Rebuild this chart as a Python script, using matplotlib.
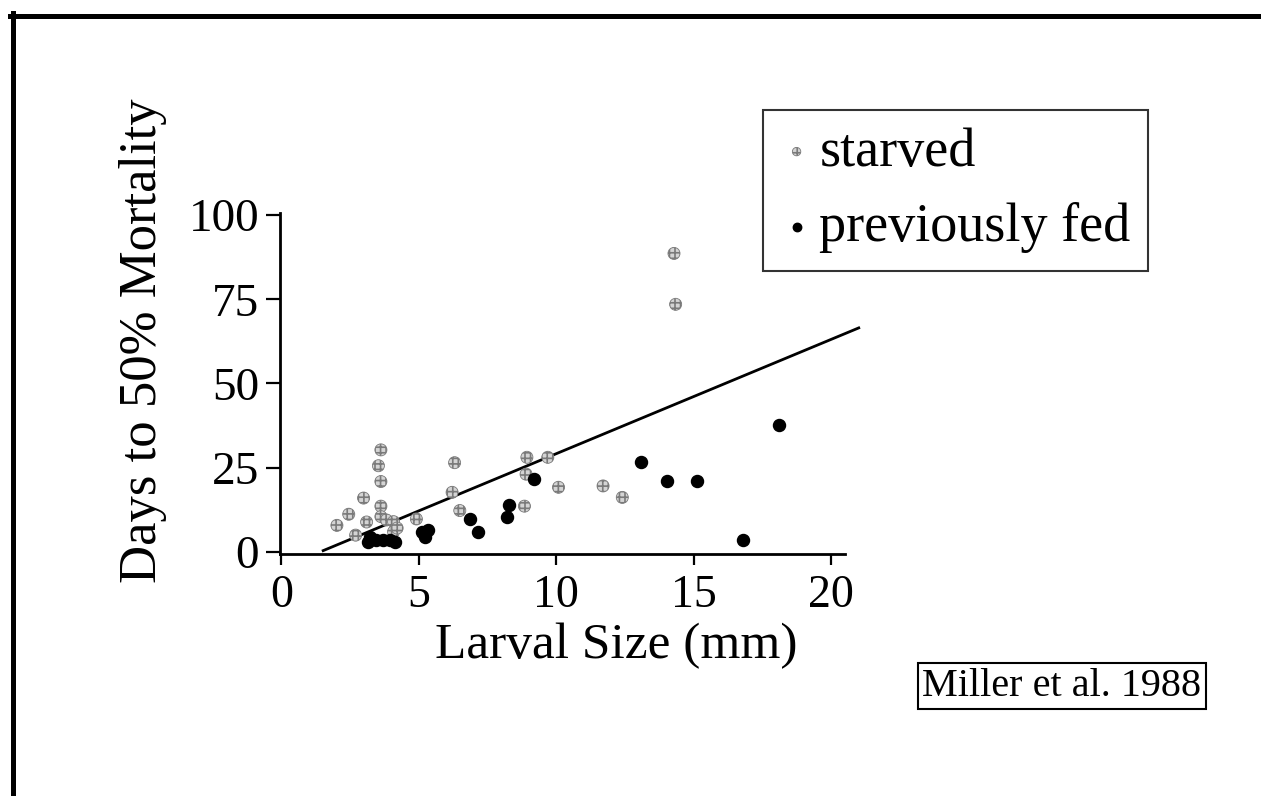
"""Days to 50% mortality vs larval size (Miller et al. 1988)."""

import matplotlib

matplotlib.use("Agg")
import matplotlib.pyplot as plt
from matplotlib.lines import Line2D

# Starved larvae (gray markers)
starved_size = [2.02, 2.45, 2.99, 2.70, 3.10, 3.53, 3.62, 3.62, 3.62, 3.62, 3.82, 4.08, 4.08,
                4.21, 4.91, 6.30, 6.21, 6.49, 8.93, 8.90, 8.84, 9.69, 10.08, 11.70, 12.40,
                14.28, 14.34]
starved_days = [7.9, 11.2, 16.0, 5.0, 8.9, 25.6, 30.3, 20.9, 13.6, 10.5, 9.5, 9.0, 6.0,
                7.1, 9.8, 26.5, 17.7, 12.3, 28.1, 23.1, 13.6, 28.1, 19.2, 19.6, 16.2,
                88.6, 73.5]

# Previously fed larvae (black markers)
fed_size = [3.15, 3.23, 3.43, 3.69, 3.95, 4.15, 5.12, 5.24, 5.35, 6.87, 7.15, 8.19, 8.29,
            9.19, 13.07, 14.04, 15.10, 16.79, 18.11]
fed_days = [3.1, 4.5, 3.6, 3.6, 3.6, 3.1, 6.0, 4.5, 6.5, 9.8, 5.8, 10.5, 13.9,
            21.6, 26.6, 21.1, 21.1, 3.6, 37.7]

# Regression line end points
fit_size = [1.52, 21.0]
fit_days = [0.4, 66.5]

x_ticks = [0, 5, 10, 15, 20]
y_ticks = [0, 25, 50, 75, 100]

W, H = 1261, 796


def main():
    plt.rcParams["font.family"] = ["Liberation Serif", "DejaVu Serif"]
    plt.rcParams["hatch.linewidth"] = 1.2

    fig = plt.figure(figsize=(W / 100, H / 100), dpi=100)
    ax = fig.add_axes([280 / W, 1 - 554 / H, 565 / W, 341 / H])

    ax.plot(fit_size, fit_days, color="black", lw=2, clip_on=False, zorder=2)
    ax.scatter(starved_size, starved_days, s=75, marker="o", facecolor="#d4d4d4",
               edgecolor="#7a7a7a", hatch="+++", linewidth=0.6, zorder=3,
               label="starved")
    ax.scatter(fed_size, fed_days, s=75, marker="o", color="black", zorder=4,
               label="previously fed")

    ax.set_xlim(-0.05, 20.5)
    ax.set_ylim(-0.6, 100.6)
    ax.set_xticks(x_ticks)
    ax.set_yticks(y_ticks)
    for side in ("top", "right"):
        ax.spines[side].set_visible(False)
    for side in ("left", "bottom"):
        ax.spines[side].set_linewidth(2)
    ax.tick_params(axis="x", direction="out", length=8, width=1.6, pad=7, labelsize=33)
    ax.tick_params(axis="y", direction="out", length=10, width=1.6, pad=5, labelsize=34)

    ax.set_xlabel("Larval Size (mm)", fontsize=37)
    ax.xaxis.set_label_coords(0.595, -0.2)
    ax.set_ylabel("Days to 50% Mortality", fontsize=38)
    ax.yaxis.set_label_coords(-0.2, 0.625)

    leg = fig.legend(loc="upper left", bbox_to_anchor=(763 / W, 1 - 110 / H),
                     fontsize=39, frameon=True, fancybox=False, edgecolor="black",
                     borderpad=0.32, handlelength=0.6, handletextpad=0.12,
                     labelspacing=0.45, borderaxespad=0, markerscale=0.7)
    leg.get_frame().set_linewidth(1.5)

    fig.text(1062 / W, 1 - 686 / H, "Miller et al. 1988", fontsize=29,
             ha="center", va="center",
             bbox=dict(boxstyle="square,pad=0.12", fc="white", ec="black", lw=1.5))

    # slide border (top and left)
    fig.add_artist(Line2D([12.5 / W, 12.5 / W], [0, 1 - 13 / H], transform=fig.transFigure,
                          color="black", lw=3.6))
    fig.add_artist(Line2D([10 / W, 1], [1 - 15.5 / H, 1 - 15.5 / H], transform=fig.transFigure,
                          color="black", lw=3.6))

    fig.savefig("out.png", dpi=100)


if __name__ == "__main__":
    main()
